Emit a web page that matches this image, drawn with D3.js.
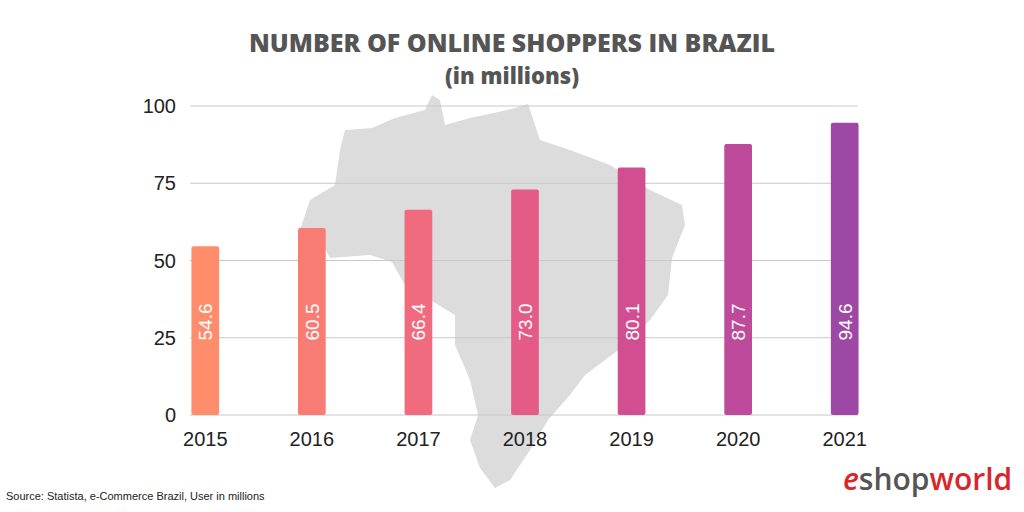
<!DOCTYPE html>
<html><head><meta charset="utf-8">
<script src="https://cdn.jsdelivr.net/npm/d3@7"></script>
<style>body{margin:0;background:#fff}</style></head>
<body><svg id="c" width="1024" height="512"></svg>
<script>
const years=["2015","2016","2017","2018","2019","2020","2021"];
const values=[54.6,60.5,66.4,73.0,80.1,87.7,94.6];
const colors=["#FF8C6B","#F87C74","#EF6B7D","#E35B86","#D34E91","#BE4A9B","#9E48A6"];
const yTicks=[0,25,50,75,100];
const svg=d3.select("#c");
const brazil=[[345,130],[372,128],[395,118],[425,110],[432,95],[440,100],[445,125],[470,118],[498,112],[515,108],[528,104],[540,140],[570,150],[610,165],[650,190],[682,205],[685,225],[672,258],[668,295],[650,320],[625,345],[605,360],[585,375],[570,395],[548,420],[530,450],[510,480],[495,488],[480,468],[470,440],[478,415],[470,380],[455,345],[455,315],[430,300],[405,285],[392,262],[370,255],[330,258],[320,240],[300,230],[310,200],[335,185],[340,150]];
svg.append("path").attr("d",d3.line()(brazil)+"Z").attr("fill","#dcdcdc");
const x=d3.scaleBand().domain(years).range([152,898]).paddingInner(0.74).paddingOuter(0.37);
const y=d3.scaleLinear().domain([0,100]).range([415,106]);
svg.append("g").selectAll("line").data(yTicks).join("line")
 .attr("x1",190).attr("x2",858).attr("y1",d=>y(d)).attr("y2",d=>y(d))
 .attr("stroke","#c8c8c8").attr("stroke-width",1);
svg.append("g").selectAll("text").data(yTicks).join("text")
 .attr("x",176).attr("y",d=>y(d)+7).attr("text-anchor","end")
 .attr("font-family","Liberation Sans, Arial").attr("font-size",20).attr("fill","#222").text(d=>d);
svg.append("g").selectAll("rect").data(values).join("rect")
 .attr("x",(d,i)=>x(years[i])).attr("width",x.bandwidth())
 .attr("y",d=>y(d)).attr("height",d=>y(0)-y(d)).attr("rx",2).attr("fill",(d,i)=>colors[i]);
svg.append("g").selectAll("text").data(values).join("text")
 .attr("transform",(d,i)=>`translate(${x(years[i])+x.bandwidth()/2+7},322) rotate(-90)`)
 .attr("text-anchor","middle").attr("font-family","Liberation Sans, Arial").attr("font-size",19).attr("fill","#fff")
 .text(d=>d.toFixed(1));
svg.append("g").selectAll("text").data(years).join("text")
 .attr("x",d=>x(d)+x.bandwidth()/2).attr("y",446).attr("text-anchor","middle")
 .attr("font-family","Liberation Sans, Arial").attr("font-size",20).attr("fill","#222").text(d=>d);
svg.append("text").attr("x",512).attr("y",52).attr("text-anchor","middle").attr("font-family","Open Sans").attr("font-weight",800)
 .attr("font-size",25).attr("fill","#555").text("NUMBER OF ONLINE SHOPPERS IN BRAZIL");
svg.append("text").attr("x",512).attr("y",84).attr("text-anchor","middle").attr("font-family","Open Sans").attr("font-weight",800)
 .attr("font-size",22).attr("fill","#555").text("(in millions)");
svg.append("text").attr("x",6).attr("y",500).attr("font-family","Liberation Sans, Arial").attr("font-size",11).attr("fill","#222")
 .text("Source: Statista, e-Commerce Brazil, User in millions");
const logo=svg.append("text").attr("x",843).attr("y",490).attr("font-family","Open Sans").attr("font-size",30).attr("font-weight",600);
logo.append("tspan").attr("fill","#d9262c").attr("font-style","italic").text("e");
logo.append("tspan").attr("fill","#555").text("shop");
logo.append("tspan").attr("fill","#d9262c").text("world");
</script></body></html>
